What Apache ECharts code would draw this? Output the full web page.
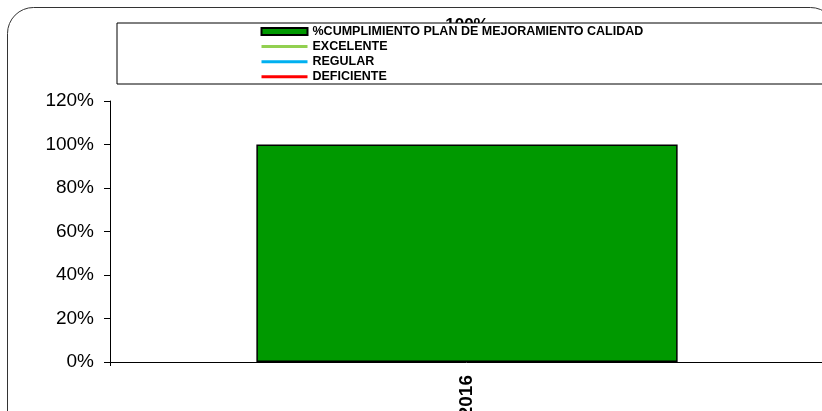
<!DOCTYPE html>
<html>
<head>
<meta charset="utf-8">
<script src="https://cdn.jsdelivr.net/npm/echarts@6/dist/echarts.min.js"></script>
<style>
  html, body { margin: 0; padding: 0; background: #fff; }
  #chart { width: 822px; height: 411px; }
</style>
</head>
<body>
<div id="chart"></div>
<script>
// datos del grafico
const categorias = ['2016'];
const cumplimiento = [100];
const excelente = [];
const regular = [];
const deficiente = [];
const yTicks = { min: 0, max: 120, step: 20 };

const nombres = ['%CUMPLIMIENTO PLAN DE MEJORAMIENTO CALIDAD', 'EXCELENTE', 'REGULAR', 'DEFICIENTE'];

let myChart = echarts.init(document.getElementById('chart'));

let option = {
  animation: false,
  textStyle: { fontFamily: 'Liberation Sans, Arial, sans-serif' },
  graphic: [
    {
      type: 'rect',
      z: -10,
      shape: { x: 7.5, y: 7.5, width: 829, height: 430, r: 26 },
      style: { fill: 'none', stroke: '#333', lineWidth: 1 }
    }
  ],
  legend: {
    orient: 'vertical',
    left: 117,
    top: 23,
    padding: [2, 320, 0.7, 143],
    borderColor: '#000',
    borderWidth: 1,
    backgroundColor: '#fff',
    itemWidth: 46,
    itemHeight: 7,
    itemGap: 2.1,
    lineStyle: { width: 3 },
    data: [
      { name: nombres[0], icon: 'rect' },
      { name: nombres[1], itemStyle: { opacity: 0 } },
      { name: nombres[2], itemStyle: { opacity: 0 } },
      { name: nombres[3], itemStyle: { opacity: 0 } }
    ],
    textStyle: {
      fontSize: 12.5,
      fontWeight: 'bold',
      color: '#000',
      fontFamily: 'Liberation Sans, Arial, sans-serif'
    }
  },
  grid: {
    left: 110,
    right: -2,
    top: 101,
    bottom: 49,
    outerBoundsMode: 'none'
  },
  xAxis: {
    type: 'category',
    data: categorias,
    axisLine: { lineStyle: { color: '#000', width: 1 } },
    axisTick: { show: true, length: 4, lineStyle: { color: '#000' } },
    axisLabel: {
      rotate: 90,
      margin: 13,
      fontSize: 19,
      fontWeight: 'bold',
      color: '#000'
    }
  },
  yAxis: {
    type: 'value',
    min: yTicks.min,
    max: yTicks.max,
    interval: yTicks.step,
    splitLine: { show: false },
    axisLine: { show: true, lineStyle: { color: '#000', width: 1 } },
    axisTick: { show: true, length: 6, lineStyle: { color: '#000' } },
    axisLabel: {
      formatter: '{value}%',
      margin: 16,
      fontSize: 19,
      color: '#000'
    }
  },
  series: [
    {
      name: nombres[0],
      type: 'bar',
      data: cumplimiento,
      barCategoryGap: '41%',
      itemStyle: { color: '#009900', borderColor: '#000', borderWidth: 1.5 },
      label: {
        show: true,
        position: 'top',
        distance: 111,
        formatter: '{c}%',
        fontSize: 17,
        fontWeight: 'bold',
        color: '#000'
      }
    },
    {
      name: nombres[1],
      type: 'line',
      data: excelente,
      symbol: 'none',
      itemStyle: { color: '#92D050' },
      lineStyle: { color: '#92D050', width: 3 }
    },
    {
      name: nombres[2],
      type: 'line',
      data: regular,
      symbol: 'none',
      itemStyle: { color: '#00B0F0' },
      lineStyle: { color: '#00B0F0', width: 3 }
    },
    {
      name: nombres[3],
      type: 'line',
      data: deficiente,
      symbol: 'none',
      itemStyle: { color: '#FF0000' },
      lineStyle: { color: '#FF0000', width: 3 }
    }
  ]
};

myChart.setOption(option);
</script>
</body>
</html>
